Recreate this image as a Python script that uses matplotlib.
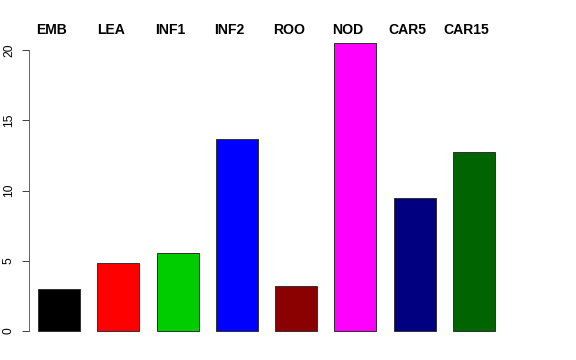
import matplotlib
matplotlib.use("Agg")
from matplotlib import pyplot as plt

# 数据
names = ['EMB', 'LEA', 'INF1', 'INF2', 'ROO', 'NOD', 'CAR5', 'CAR15']
values = [3.0, 4.87, 5.55, 13.7, 3.2, 20.5, 9.47, 12.75]
colors = ['#000000', '#FF0000', '#00CD00', '#0000FF', '#8B0000', '#FF00FF', '#000080', '#006400']

plt.rcParams['font.family'] = ['Liberation Sans', 'DejaVu Sans']

fig = plt.figure(figsize=(8, 5), dpi=72)
# 画图区域（按像素位置换算）
ax = fig.add_axes([29 / 576, 17.5 / 360, (517 - 29) / 576, (342.5 - 31.5) / 360])

pos = [0.7 + 1.2 * i for i in range(len(values))]
ax.bar(pos, values, width=0.85, color=colors, edgecolor='#333333', linewidth=1)

ax.set_xlim(0.093, 9.97)
ax.set_ylim(-0.82, 21.32)

# 顶部标签（比柱子中心稍微偏左）
for x, n in zip(pos, names):
    ax.text(x - 0.15, 21.14, n, ha='center', va='baseline', fontsize=14, fontweight='bold', clip_on=False)

# R 风格的 y 轴
for s in ['top', 'right', 'bottom']:
    ax.spines[s].set_visible(False)
ax.spines['left'].set_bounds(0, 20)
ax.spines['left'].set_color('#444444')
ax.set_xticks([])
ax.set_yticks([0, 5, 10, 15, 20])
ax.tick_params(axis='y', length=7, width=1, color='#444444', pad=7, labelsize=12)
for lab in ax.get_yticklabels():
    lab.set_rotation(90)
    lab.set_va('center')

fig.savefig('out.png', dpi=72)
